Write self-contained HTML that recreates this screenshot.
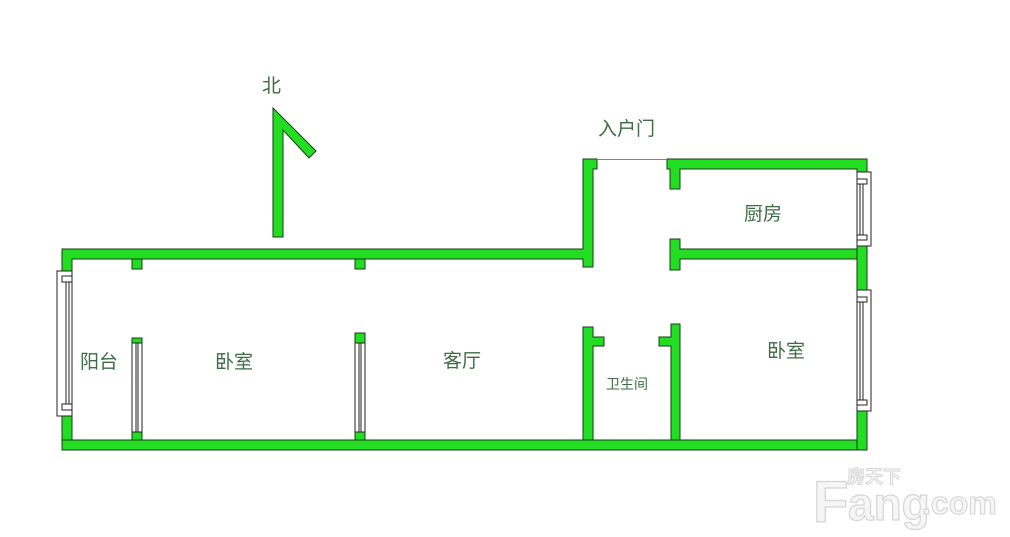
<!DOCTYPE html>
<html><head><meta charset="utf-8"><style>
html,body{margin:0;padding:0;background:#fff;}
svg{display:block}
text{font-family:"Liberation Sans","Noto Sans CJK SC",sans-serif;fill:#3d6b45;}
</style></head><body>
<svg width="1010" height="537" viewBox="0 0 1010 537" xmlns="http://www.w3.org/2000/svg">
<g fill="#22dd22" stroke="#1a3a1a" stroke-width="1">
<polygon points="273,108 316,151 309,158 283,130 283,237 273,237"/>
<path d="M62,249 H583 V159 H597 V169 H593 V267 H583 V259 H72 V276 H62 Z"/>
<path d="M667,159 H867 V179 H857 V169 H680 V189 H670 V169 H667 Z"/>
<rect x="62" y="410" width="10" height="40"/>
<rect x="62" y="440" width="805" height="10"/>
<rect x="857" y="405" width="10" height="45"/>
<rect x="857" y="240" width="10" height="57"/>
<path d="M670,239 H680 V249 H857 V259 H680 V270 H670 Z"/>
<rect x="132" y="259" width="10" height="10"/>
<rect x="355" y="259" width="10" height="10"/>
<rect x="132" y="338" width="10" height="5"/>
<rect x="132" y="432" width="10" height="8"/>
<rect x="355" y="333" width="10" height="10"/>
<rect x="355" y="432" width="10" height="8"/>
<path d="M583,327 H593 V337 H604 V346 H593 V440 H583 Z"/>
<path d="M671,324 H680 V440 H671 V346 H659 V337 H671 Z"/>
</g>
<g fill="#fff" stroke="#222" stroke-width="1">
<rect x="57" y="271" width="15" height="145"/>
<rect x="62" y="276" width="10" height="6"/>
<rect x="62" y="404" width="10" height="6"/>
<line x1="66" y1="282" x2="66" y2="404"/><line x1="69" y1="282" x2="69" y2="404"/>
<rect x="132" y="343" width="10" height="89"/>
<line x1="136" y1="343" x2="136" y2="432"/><line x1="138" y1="343" x2="138" y2="432"/>
<rect x="355" y="343" width="10" height="89"/>
<line x1="359" y1="343" x2="359" y2="432"/><line x1="361" y1="343" x2="361" y2="432"/>
<rect x="857" y="172" width="14" height="74"/>
<rect x="857" y="179" width="10" height="5"/>
<rect x="857" y="235" width="10" height="5"/>
<line x1="860" y1="184" x2="860" y2="235"/><line x1="863" y1="184" x2="863" y2="235"/>
<rect x="857" y="290" width="14" height="121"/>
<rect x="857" y="297" width="10" height="5"/>
<rect x="857" y="400" width="10" height="5"/>
<line x1="860" y1="302" x2="860" y2="400"/><line x1="863" y1="302" x2="863" y2="400"/>
</g>
<line x1="597" y1="159.5" x2="667" y2="159.5" stroke="#a08050" stroke-width="1"/>
<text x="262" y="92" font-size="19">北</text>
<text x="598" y="135" font-size="19">入户门</text>
<text x="744" y="220" font-size="19">厨房</text>
<text x="80" y="368" font-size="19">阳台</text>
<text x="215" y="368" font-size="19">卧室</text>
<text x="443" y="367" font-size="19">客厅</text>
<text x="606" y="389" font-size="14">卫生间</text>
<text x="767" y="357" font-size="19">卧室</text>
<g style="font-family:'Liberation Sans',sans-serif;font-weight:bold;">
<text x="813" y="522" font-size="58" style="fill:#f6f6f6;" stroke="#d4d4d4" stroke-width="1.2">F</text>
<text x="848" y="520" font-size="46" style="fill:#f6f6f6;" stroke="#d4d4d4" stroke-width="1.2">ang</text>
<text x="922" y="514" font-size="32" style="fill:#f6f6f6;" stroke="#d4d4d4" stroke-width="1.1">.com</text>
<text x="847" y="483" font-size="18" style="fill:#f6f6f6;font-family:'Noto Sans CJK SC',sans-serif;" stroke="#d4d4d4" stroke-width="0.9">房天下</text>
</g>
</svg>
</body></html>
